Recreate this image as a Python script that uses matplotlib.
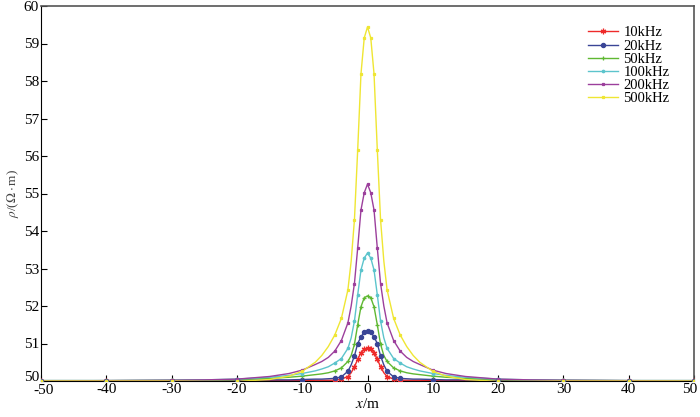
import numpy as np
import matplotlib.pyplot as plt
from matplotlib.transforms import ScaledTranslation

plt.rcParams['font.family'] = ['Liberation Serif', 'DejaVu Serif']
plt.rcParams['mathtext.fontset'] = 'stix'
plt.rcParams['axes.unicode_minus'] = False

# Значения (правая половина, кривые симметричны)
x_half = [0, 0.5, 1, 1.5, 2, 2.5, 3, 4, 5, 6, 7, 8, 10, 12, 15, 20, 25, 30, 40, 50]
x_marks = [0, 0.5, 1, 1.5, 2, 3, 4, 5, 10, 20, 30, 40, 50]

rho_10k = [50.88, 50.85, 50.76, 50.58, 50.38, 50.22, 50.12, 50.05, 50.02, 50.02,
           50.02, 50.02, 50.01, 50.01, 50.01, 50.01, 50.0, 50.0, 50.0, 50.0]
rho_20k = [51.33, 51.30, 51.18, 51.00, 50.67, 50.43, 50.26, 50.11, 50.07, 50.06,
           50.05, 50.05, 50.04, 50.03, 50.03, 50.02, 50.02, 50.01, 50.01, 50.01]
rho_50k = [52.27, 52.22, 51.98, 51.50, 50.98, 50.68, 50.52, 50.35, 50.27, 50.22,
           50.19, 50.17, 50.13, 50.10, 50.07, 50.04, 50.03, 50.02, 50.01, 50.01]
rho_100k = [53.41, 53.28, 52.96, 52.30, 51.60, 51.15, 50.87, 50.60, 50.48, 50.38,
            50.32, 50.27, 50.20, 50.15, 50.10, 50.05, 50.03, 50.02, 50.01, 50.01]
rho_200k = [55.25, 55.02, 54.56, 53.55, 52.60, 52.00, 51.55, 51.08, 50.80, 50.63,
            50.52, 50.44, 50.29, 50.20, 50.12, 50.05, 50.03, 50.02, 50.01, 50.0]
rho_500k = [59.44, 59.15, 58.19, 56.17, 54.30, 53.20, 52.43, 51.67, 51.23, 50.92,
            50.68, 50.50, 50.26, 50.13, 50.04, 49.99, 49.99, 50.0, 50.0, 50.0]

labels = ['10kHz', '20kHz', '50kHz', '100kHz', '200kHz', '500kHz']
series = [rho_10k, rho_20k, rho_50k, rho_100k, rho_200k, rho_500k]
colors = ['#ee2a2a', '#3a4596', '#5fb832', '#5cc4cc', '#9c3f9c', '#efe633']
markers = [(6, 2, 0), 'o', '+', '.', 's', 's']
msizes = [4, 3, 3, 3.5, 1.8, 2.0]


def mirror(xs, ys):
    """Разворачивает половину кривой в полную симметричную."""
    xs = np.asarray(xs, dtype=float)
    ys = np.asarray(ys, dtype=float)
    return np.concatenate([-xs[:0:-1], xs]), np.concatenate([ys[:0:-1], ys])


fig = plt.figure(figsize=(7.0, 4.17), dpi=100)
ax = fig.add_axes([41 / 700, 36 / 417, 653 / 700, 375 / 417])

for lab, ys, c, m, ms in zip(labels, series, colors, markers, msizes):
    xf, yf = mirror(x_half, ys)
    ax.plot(xf, yf, color=c, lw=1.0, zorder=2)
    mask = np.isin(xf, x_marks) | np.isin(-xf, x_marks)
    ax.plot(xf[mask], yf[mask], ls='none', marker=m, ms=ms, color=c,
            mec=c, mew=0.9, zorder=3)
    # запись для легенды
    ax.plot([], [], color=c, lw=1.0, marker=m, ms=ms, mec=c, mew=0.9, label=lab)

ax.set_xlim(-50, 50)
ax.set_ylim(50, 60)
ax.set_xticks(np.arange(-50, 51, 10))
ax.set_yticks(np.arange(50, 61, 1))
ax.tick_params(direction='in', length=4, width=0.8, labelsize=11,
               top=False, right=False, pad=1.5)
for s in ['left', 'bottom']:
    ax.spines[s].set_color('black')
for s in ['top', 'right']:
    ax.spines[s].set_color('#555555')
    ax.spines[s].set_linewidth(1.2)

# крайние подписи чуть сдвигаем, чтобы не обрезались и не налезали друг на друга
def shift(label, dx, dy):
    label.set_transform(label.get_transform()
                        + ScaledTranslation(dx / 100, dy / 100, fig.dpi_scale_trans))

shift(ax.get_xticklabels()[-1], -4, 0)
shift(ax.get_xticklabels()[0], 3, -1)
shift(ax.get_yticklabels()[0], 0, 5)

ax.set_xlabel(r'$x$/m', fontsize=11, labelpad=0)
ax.set_ylabel(r'$\rho$/($\Omega\cdot$m)', fontsize=9.5, color='#444444', labelpad=2)

leg = ax.legend(loc='upper right', frameon=False, fontsize=10.5, handlelength=2.0,
                handletextpad=0.4, labelspacing=0.0, borderaxespad=0.6,
                bbox_to_anchor=(0.985, 0.985))

plt.savefig('out.png', dpi=100)
